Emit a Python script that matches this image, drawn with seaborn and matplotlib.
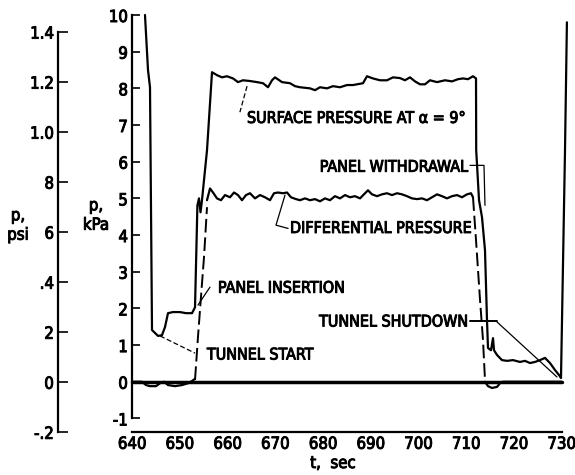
import matplotlib
matplotlib.use("Agg")
import matplotlib.pyplot as plt
import matplotlib.patheffects as pe
import pandas as pd
import seaborn as sns

# ---------------- data (t in s, p in kPa) ----------------
surf_t = [642.72, 643.35, 643.77, 644.19, 644.82, 645.45, 646.28, 646.91, 647.54, 648.59,
          650.05, 651.31, 652.57, 653.2, 653.7, 654.03, 654.35, 654.66, 655.71, 656.76,
          657.8, 658.85, 659.9, 661.16, 662.2, 663.25, 664.72, 666.18, 667.44, 668.49,
          669.33, 669.95, 671.42, 673.1, 674.14, 675.19, 677.29, 678.33, 679.38, 680.85,
          682.1, 683.57, 685.03, 686.29, 688.39, 689.22, 690.48, 691.95, 693.41, 694.67,
          696.14, 697.18, 698.23, 699.28, 700.33, 701.37, 702.42, 703.89, 705.56, 707.03,
          708.29, 709.33, 710.38, 711.43, 712.06, 712.1, 712.69, 713.31, 713.94, 714.36,
          714.57, 715.2, 715.62, 715.83, 716.46, 717.5, 718.55, 719.81, 721.27, 722.32,
          723.37, 724.42, 725.46, 726.51, 727.56, 728.6, 729.65, 729.86, 730.7, 731.1]
surf_p = [10.0, 8.5, 8.03, 1.41, 1.33, 1.25, 1.27, 1.49, 1.87, 1.90,
          1.90, 1.87, 1.87, 2.03, 4.81, 5.0, 4.62, 4.95, 6.31, 8.44,
          8.36, 8.30, 8.33, 8.27, 8.17, 8.22, 8.20, 8.17, 8.14, 8.03,
          8.22, 8.30, 8.17, 8.14, 8.06, 8.03, 8.0, 7.95, 8.03, 8.0,
          8.06, 8.03, 8.09, 8.09, 8.14, 8.33, 8.27, 8.22, 8.22, 8.30,
          8.28, 8.22, 8.30, 8.19, 8.11, 8.11, 8.22, 8.17, 8.22, 8.19,
          8.25, 8.27, 8.25, 8.33, 8.27, 6.31, 4.95, 4.49, 3.59, 1.68,
          0.92, 0.86, 1.19, 0.86, 0.73, 0.59, 0.57, 0.59, 0.54, 0.57,
          0.51, 0.54, 0.59, 0.65, 0.51, 0.32, 0.15, 0.10, 6.31, 9.8]

diff_base_t = [640.0, 642.1, 642.93, 643.77, 645.03, 645.87, 646.7, 647.54, 649.0, 650.47,
               651.73, 652.57, 653.2]
diff_base_p = [0.0, 0.0, -0.09, -0.12, -0.12, -0.04, 0.0, -0.09, -0.12, -0.09,
               -0.04, 0.02, 0.08]
diff_rise_t = [653.2, 653.82, 654.66, 655.08, 655.71]
diff_rise_p = [0.05, 1.22, 2.68, 3.39, 4.76]
diff_plat_t = [655.71, 656.34, 656.97, 657.8, 658.64, 659.48, 660.53, 661.37, 662.2, 663.04,
               663.88, 664.72, 665.76, 666.81, 667.86, 668.91, 669.74, 670.58, 671.63, 672.47,
               673.3, 674.35, 675.19, 676.24, 677.29, 678.33, 679.38, 680.43, 681.47, 682.52,
               683.57, 684.62, 685.66, 686.71, 687.76, 688.81, 689.43, 690.27, 691.32, 692.37,
               693.41, 694.46, 695.51, 696.56, 697.6, 698.65, 699.7, 700.75, 701.79, 702.84,
               703.89, 704.93, 705.98, 707.03, 708.07, 709.12, 710.17, 711.01, 711.43]
diff_plat_p = [4.95, 5.27, 5.16, 5.0, 4.95, 5.09, 5.03, 5.16, 5.09, 4.95,
               5.09, 5.14, 5.0, 5.09, 5.03, 4.95, 5.14, 5.16, 5.14, 5.16,
               5.03, 4.98, 4.95, 5.0, 4.95, 4.98, 4.92, 5.0, 4.95, 5.06,
               5.0, 5.09, 5.03, 5.06, 5.0, 5.14, 5.22, 5.11, 5.06, 5.11,
               5.14, 5.09, 5.14, 5.11, 5.06, 5.0, 4.98, 5.0, 4.95, 5.03,
               5.11, 5.06, 5.0, 5.06, 5.09, 5.03, 5.11, 5.14, 5.03]
diff_fall_t = [711.43, 712.06, 712.9, 713.52, 713.94]
diff_fall_p = [5.03, 3.86, 2.23, 1.14, 0.05]
diff_post_t = [713.94, 714.57, 715.41, 716.46, 717.08, 717.71, 730.0]
diff_post_p = [0.0, -0.12, -0.17, -0.14, -0.04, 0.0, 0.0]

zero_t = [640.0, 730.0]
zero_p = [0.0, 0.0]

x_ticks = [640, 650, 660, 670, 680, 690, 700, 710, 720, 730]
kpa_ticks = [-1, 0, 1, 2, 3, 4, 5, 6, 7, 8, 9, 10]
psi_ticks = [-0.2, 0.0, 0.2, 0.4, 0.6, 0.8, 1.0, 1.2, 1.4]
psi_labels = ["-.2", "0", "2", ".4", "6", "8", "1.0", "1.2", "1.4"]

PSI_FACTOR = 6.82  # kPa per psi as drawn on the scale

# ---------------- style ----------------
sns.set_theme(style="white")
plt.rcParams["font.family"] = ["DejaVu Sans"]
plt.rcParams["font.stretch"] = "condensed"
plt.rcParams["text.color"] = "black"
plt.rcParams["axes.unicode_minus"] = False

heavy = [pe.withStroke(linewidth=0.7, foreground="black")]

fig = plt.figure(figsize=(5.75, 4.75), dpi=100)
xlo, xhi = 640.0, 731.5
ylo, yhi = -1.37, 10.0
ax = fig.add_axes([132 / 575, 1 - 432 / 475, (xhi - xlo) * 4.774 / 575, (432 - 15) / 475])

lw = 1.6
def line(t, p, width=lw):
    df = pd.DataFrame({"t": t, "p": p})
    sns.lineplot(data=df, x="t", y="p", ax=ax, estimator=None, sort=False,
                 color="black", linewidth=width)

line(zero_t, zero_p, width=2.5)
line(surf_t, surf_p)
line(diff_base_t, diff_base_p)
line(diff_plat_t, diff_plat_p)
line(diff_post_t, diff_post_p)
for t, p in [(diff_rise_t, diff_rise_p), (diff_fall_t, diff_fall_p)]:
    line(t, p, width=1.4)
    ax.lines[-1].set_dashes([7, 2.5])
for ln in ax.lines:
    ln.set_clip_on(False)

# leader lines (annotation pointers)
thin = dict(color="black", linewidth=0.9, clip_on=False)
ax.plot([664.1, 662.6], [8.06, 7.35], dashes=[4, 2], **thin)
ax.plot([672.05, 670.16, 672.7], [5.09, 4.27, 4.18], **thin)
ax.plot([710.8, 713.73, 713.94], [5.9, 5.9, 4.81], **thin)
ax.plot([653.82, 655.5, 656.34], [2.09, 2.42, 2.58], **thin)
ax.plot([645.87, 653.2], [1.25, 0.78], dashes=[4, 2], **thin)
ax.plot([710.8, 716.46], [1.65, 1.65], color="black", linewidth=1.4)
ax.plot([716.46, 729.02], [1.63, 0.13], **thin)

fs = 11.5
tk = dict(fontsize=fs, va="center", path_effects=heavy)
ax.text(664.09, 7.18, "SURFACE PRESSURE AT α = 9°", ha="left", **tk)
ax.text(710.4, 5.85, "PANEL WITHDRAWAL", ha="right", **tk)
ax.text(673.1, 4.18, "DIFFERENTIAL PRESSURE", ha="left", **tk)
ax.text(658.0, 2.55, "PANEL INSERTION", ha="left", **tk)
ax.text(710.4, 1.63, "TUNNEL SHUTDOWN", ha="right", **tk)
ax.text(655.7, 0.73, "TUNNEL START", ha="left", **tk)

# main axes
ax.set_xlim(xlo, xhi)
ax.set_ylim(ylo, yhi)
ax.set_xticks(x_ticks)
ax.set_yticks(kpa_ticks)
ax.set_xlabel("")
ax.set_ylabel("")
for s in ["top", "right"]:
    ax.spines[s].set_visible(False)
for s in ["left", "bottom"]:
    ax.spines[s].set_color("black")
    ax.spines[s].set_linewidth(1.6)
ax.spines["left"].set_bounds(-1, 10)
ax.spines["bottom"].set_bounds(640, 730)
ax.tick_params(axis="both", direction="in", length=6, width=1.2, colors="black",
               labelsize=12, pad=3)
ax.tick_params(axis="x", pad=2)
ax.patch.set_alpha(0)

# psi axis
ax2 = ax.twinx()
ax2.set_ylim(ylo / PSI_FACTOR, yhi / PSI_FACTOR)
for s in ["top", "right", "bottom"]:
    ax2.spines[s].set_visible(False)
ax2.spines["left"].set_visible(True)
ax2.spines["left"].set_position(("axes", (58 - 132) / ((xhi - xlo) * 4.774)))
ax2.spines["left"].set_color("black")
ax2.spines["left"].set_linewidth(1.6)
ax2.spines["left"].set_bounds(-0.2, 1.4)
ax2.yaxis.set_ticks_position("left")
ax2.yaxis.set_label_position("left")
ax2.set_yticks(psi_ticks)
ax2.set_yticklabels(psi_labels)
ax2.tick_params(axis="y", direction="in", length=7, width=1.2, colors="black",
                labelsize=12, pad=3)
ax2.grid(False)
ax.grid(False)

for lab in ax.get_xticklabels() + ax.get_yticklabels() + ax2.get_yticklabels():
    lab.set_path_effects(heavy)

fig.text(18 / 575, 1 - 225 / 475, "p,\npsi", fontsize=12, ha="center", va="center",
         linespacing=1.1, path_effects=heavy)
fig.text(96 / 575, 1 - 215 / 475, "p,\nkPa", fontsize=12, ha="center", va="center",
         linespacing=1.1, path_effects=heavy)
fig.text(333 / 575, 1 - 463 / 475, "t,  sec", fontsize=12, ha="center", va="center",
         path_effects=heavy)

fig.savefig("out.png", dpi=100, facecolor="white")
